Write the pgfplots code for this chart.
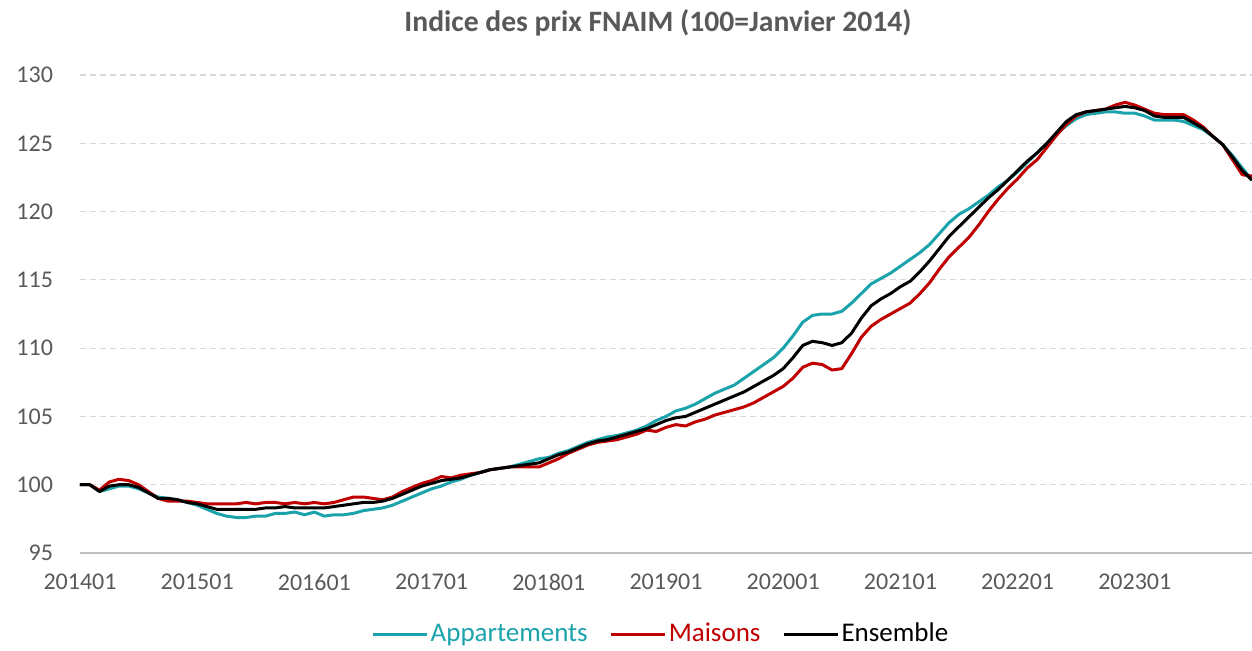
\documentclass[border=0pt]{standalone}
\usepackage{pgfplots}
\usepackage{pgfplotstable}
\usepackage{fontspec}
\setmainfont{Carlito}
\pgfplotsset{compat=1.18}

\definecolor{appart}{HTML}{1BA3AC}
\definecolor{maison}{HTML}{C00000}
\definecolor{txtgray}{HTML}{595959}
\definecolor{gridgray}{HTML}{D9D9D9}
\definecolor{axisgray}{HTML}{BFBFBF}

% m = mois depuis janvier 2014, A = appartements, M = maisons, E = ensemble
\pgfplotstableread{
m A M E
0 100.0 100.0 100.0
1 100.0 100.0 100.0
2 99.5 99.6 99.5
3 99.7 100.2 99.9
4 99.9 100.4 100.0
5 99.9 100.3 100.0
6 99.7 100.0 99.8
7 99.4 99.5 99.4
8 99.1 99.0 99.0
9 99.0 98.8 99.0
10 98.9 98.8 98.9
11 98.7 98.8 98.7
12 98.5 98.7 98.6
13 98.2 98.6 98.4
14 97.9 98.6 98.2
15 97.7 98.6 98.2
16 97.6 98.6 98.2
17 97.6 98.7 98.2
18 97.7 98.6 98.2
19 97.7 98.7 98.3
20 97.9 98.7 98.3
21 97.9 98.6 98.4
22 98.0 98.7 98.3
23 97.8 98.6 98.3
24 98.0 98.7 98.3
25 97.7 98.6 98.3
26 97.8 98.7 98.4
27 97.8 98.9 98.5
28 97.9 99.1 98.6
29 98.1 99.1 98.7
30 98.2 99.0 98.7
31 98.3 98.9 98.8
32 98.5 99.1 99.0
33 98.8 99.5 99.3
34 99.1 99.8 99.6
35 99.4 100.1 99.9
36 99.7 100.3 100.1
37 99.9 100.6 100.3
38 100.2 100.5 100.4
39 100.4 100.7 100.5
40 100.7 100.8 100.7
41 100.9 100.9 100.9
42 101.1 101.1 101.1
43 101.2 101.2 101.2
44 101.3 101.3 101.3
45 101.5 101.3 101.4
46 101.7 101.3 101.5
47 101.9 101.3 101.6
48 102.0 101.6 101.9
49 102.3 101.9 102.2
50 102.5 102.3 102.4
51 102.8 102.6 102.7
52 103.1 102.9 103.0
53 103.3 103.1 103.2
54 103.5 103.2 103.3
55 103.6 103.3 103.5
56 103.8 103.5 103.7
57 104.0 103.7 103.9
58 104.3 104.0 104.1
59 104.7 103.9 104.4
60 105.0 104.2 104.7
61 105.4 104.4 104.9
62 105.6 104.3 105.0
63 105.9 104.6 105.3
64 106.3 104.8 105.6
65 106.7 105.1 105.9
66 107.0 105.3 106.2
67 107.3 105.5 106.5
68 107.8 105.7 106.8
69 108.3 106.0 107.2
70 108.8 106.4 107.6
71 109.3 106.8 108.0
72 110.0 107.2 108.5
73 110.9 107.8 109.3
74 111.9 108.6 110.2
75 112.4 108.9 110.5
76 112.5 108.8 110.4
77 112.5 108.4 110.2
78 112.7 108.5 110.4
79 113.3 109.6 111.1
80 114.0 110.8 112.2
81 114.7 111.6 113.1
82 115.1 112.1 113.6
83 115.5 112.5 114.0
84 116.0 112.9 114.5
85 116.5 113.3 114.9
86 117.0 114.0 115.6
87 117.6 114.8 116.4
88 118.4 115.8 117.3
89 119.2 116.7 118.2
90 119.8 117.4 118.9
91 120.2 118.1 119.6
92 120.7 119.0 120.3
93 121.2 120.0 121.0
94 121.8 120.9 121.6
95 122.3 121.7 122.3
96 122.9 122.4 123.0
97 123.6 123.2 123.7
98 124.3 123.8 124.3
99 125.0 124.7 125.0
100 125.7 125.6 125.8
101 126.3 126.4 126.6
102 126.8 127.0 127.1
103 127.1 127.3 127.3
104 127.2 127.4 127.4
105 127.3 127.5 127.5
106 127.3 127.8 127.6
107 127.2 128.0 127.7
108 127.2 127.8 127.6
109 127.0 127.5 127.4
110 126.7 127.2 127.0
111 126.7 127.1 126.9
112 126.7 127.1 126.9
113 126.6 127.1 126.9
114 126.3 126.7 126.5
115 126.0 126.2 126.1
116 125.5 125.5 125.5
117 124.9 124.9 124.9
118 124.1 123.8 124.0
119 123.2 122.7 123.0
120 122.3 122.6 122.3
}\fnaim

\begin{document}
\begin{tikzpicture}
\useasboundingbox (-40pt,-48.5pt) rectangle (586pt,276.5pt);
\begin{axis}[
    at={(0pt,0pt)}, anchor=south west,
    scale only axis,
    width=586pt, height=239pt,
    xmin=0, xmax=120,
    ymin=95, ymax=130,
    xtick={0,12,...,108},
    xticklabels={201401,201501,201601,201701,201801,201901,202001,202101,202201,202301},
    ytick={95,100,...,130},
    axis x line*=bottom,
    axis y line*=left,
    y axis line style={draw=none},
    x axis line style={draw=axisgray, line width=1pt},
    tick style={draw=none},
    ymajorgrids,
    major grid style={draw=gridgray, dash pattern=on 3pt off 2pt, line width=0.6pt},
    /pgf/number format/assume math mode=true,
    ticklabel style={font=\fontsize{12}{14}\selectfont, text=txtgray},
    yticklabel style={xshift=-10pt},
    xticklabel style={yshift=-7pt},
    title={Indice des prix FNAIM (100=Janvier 2014)},
    title style={at={(0.5,1)}, anchor=center, yshift=20pt, xshift=-4pt,
        font=\bfseries\fontsize{14.8}{17}\selectfont, text=txtgray},
    legend columns=3,
    legend style={at={(0.5,0)}, anchor=center, yshift=-40.5pt, xshift=-2.5pt,
        draw=none, fill=none, font=\fontsize{13.5}{16}\selectfont,
        nodes={inner xsep=1pt},
        /tikz/every odd column/.append style={column sep=0pt},
        /tikz/every even column/.append style={column sep=10pt},
        inner sep=0pt},
    legend image code/.code={\draw[#1] (0pt,0pt) -- (27pt,0pt);},
    every axis plot/.append style={line width=1.5pt, line join=round},
]
\addplot[appart] table[x=m, y=A] {\fnaim};
\addlegendentry{\textcolor{appart}{Appartements}}
\addplot[maison] table[x=m, y=M] {\fnaim};
\addlegendentry{\textcolor{maison}{Maisons}}
\addplot[black] table[x=m, y=E] {\fnaim};
\addlegendentry{Ensemble}
\end{axis}
\end{tikzpicture}
\end{document}
